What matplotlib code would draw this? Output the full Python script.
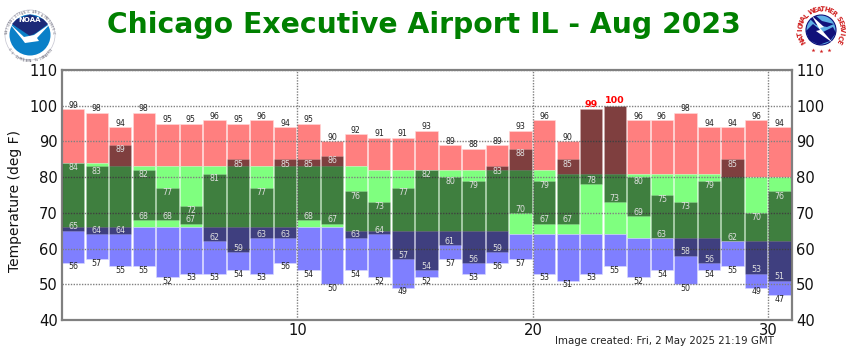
import math
import numpy as np
import matplotlib
matplotlib.use("Agg")
import matplotlib.pyplot as plt
from matplotlib.patches import Circle, Polygon

days = list(range(1, 32))
record_high = [99, 98, 94, 98, 95, 95, 96, 95, 96, 94, 95, 90, 92, 91, 91, 93,
               89, 88, 89, 93, 96, 90, 99, 100, 96, 96, 98, 94, 94, 96, 94]
record_low = [56, 57, 55, 55, 52, 53, 53, 54, 53, 56, 54, 50, 54, 52, 49, 52,
              57, 53, 56, 57, 53, 51, 53, 55, 52, 54, 50, 54, 55, 49, 47]
normal_high = [84, 84, 83, 83, 83, 83, 83, 83, 83, 83, 83, 83, 83, 82, 82, 82,
               82, 82, 82, 82, 82, 81, 81, 81, 81, 81, 81, 81, 80, 80, 80]
normal_low = [66, 66, 66, 66, 66, 66, 66, 66, 66, 66, 66, 66, 65, 65, 65, 65,
              65, 65, 65, 64, 64, 64, 64, 64, 63, 63, 63, 63, 62, 62, 62]
obs_high = [84, 83, 89, 82, 77, 72, 81, 85, 77, 85, 85, 86, 76, 73, 77, 82,
            80, 79, 83, 88, 79, 85, 99, 100, 80, 75, 73, 79, 85, 70, 76]
obs_low = [65, 64, 64, 68, 68, 67, 62, 59, 63, 63, 68, 67, 63, 64, 57, 54,
           61, 56, 59, 70, 67, 67, 78, 73, 69, 63, 58, 56, 62, 53, 51]

title = "Chicago Executive Airport IL - Aug 2023"
stamp = "Image created: Fri, 2 May 2025 21:19 GMT"
y_ticks = [40, 50, 60, 70, 80, 90, 100, 110]
x_ticks = [10, 20, 30]

W, H = 850, 350
fig = plt.figure(figsize=(W / 100, H / 100), dpi=100)
ax = fig.add_axes([62 / W, 1 - 320 / H, 730 / W, 250 / H])

x = np.array(days) - 1
rh = np.array(record_high)
rl = np.array(record_low)
nh = np.array(normal_high)
nl = np.array(normal_low)
oh = np.array(obs_high)
ol = np.array(obs_low)

# background bars: record range split at the normals
bw = 0.95
ax.bar(x, rh - nh, bw, nh, align="edge", color=(1, 0, 0, 0.5), edgecolor=(1, 0.85, 0.85, 0.8), lw=0.5, zorder=2)
ax.bar(x, nh - nl, bw, nl, align="edge", color=(0, 1, 0, 0.5), edgecolor=(0.8, 1, 0.8, 0.6), lw=0.5, zorder=2)
ax.bar(x, nl - rl, bw, rl, align="edge", color=(0, 0, 1, 0.5), edgecolor=(0.85, 0.85, 1, 0.8), lw=0.5, zorder=2)
# observed range
ax.bar(x, oh - ol, bw, ol, align="edge", color=(0, 0, 0, 0.5), edgecolor=(1, 1, 1, 0.2), lw=0.5, zorder=3)

ax.set_xlim(0, 31)
ax.set_ylim(40, 110)
ax.set_xticks(x_ticks)
ax.set_yticks(y_ticks)
ax.tick_params(axis="both", length=0, labelsize=10.6, colors="#111111")
ax.tick_params(axis="y", labelright=True, right=False, pad=3)
ax.tick_params(axis="x", pad=2)
ax.grid(True, ls=(0, (1, 1)), color="#808080", lw=1.0, zorder=4)
ax.set_axisbelow(False)
for s in ax.spines:
    ax.spines[s].set_color("#808080")
    ax.spines[s].set_linewidth(1.6)
fig.text(15 / W, 1 - 201 / H, "Temperature (deg F)", rotation=90, ha="center", va="center",
         fontsize=10, color="#111111")

for i in range(len(days)):
    cx = x[i] + bw / 2
    if oh[i] >= rh[i]:
        ax.text(cx, rh[i] + 1.45, str(rh[i]), ha="center", va="center", fontsize=6.8,
                fontweight="bold", color="red", zorder=6)
    else:
        ax.text(cx, rh[i] + 1.1, str(rh[i]), ha="center", va="center", fontsize=5.7, color="#222222", zorder=6)
        ax.text(cx, oh[i] - 1.35, str(oh[i]), ha="center", va="center", fontsize=5.7, color="#e0e0e0", zorder=6)
    ax.text(cx, ol[i] + 1.05, str(ol[i]), ha="center", va="center", fontsize=5.7, color="#e0e0e0", zorder=6)
    ax.text(cx, rl[i] - 1.15, str(rl[i]), ha="center", va="center", fontsize=5.7, color="#222222", zorder=6)

fig.text(424 / W, 1 - 25 / H, title, ha="center", va="center", fontsize=20.35,
         fontweight="bold", color="#008000")
fig.text(555 / W, 1 - 341.5 / H, stamp, ha="left", va="center", fontsize=7.35, color="#222222")

# logos in pixel coordinates
logo = fig.add_axes([0, 0, 1, 1], facecolor="none")
logo.set_xlim(0, W)
logo.set_ylim(H, 0)
logo.axis("off")


def ring_text(text, cx, cy, r, start, end, **kw):
    angles = np.linspace(start, end, len(text))
    for ch, a in zip(text, angles):
        px = cx + r * math.cos(math.radians(a))
        py = cy - r * math.sin(math.radians(a))
        logo.text(px, py, ch, rotation=a - 90, ha="center", va="center", **kw)


# NOAA
logo.add_patch(Circle((30, 35), 25, fc="white", ec="#c4c4d0", lw=0.5))
logo.add_patch(Circle((30, 35), 20.5, fc="#0a80c8", ec="none"))
logo.add_patch(Polygon([[12, 24], [17, 19], [30, 14.5], [43, 19], [48, 24], [36, 33], [30, 36]], fc="#1c2a78", ec="none"))
logo.add_patch(Polygon([[9, 23], [24, 37], [34, 35], [51, 23], [37, 38], [39, 41], [25, 43], [22, 39]], fc="white", ec="none"))
logo.text(30, 20.5, "NOAA", color="white", fontsize=5, fontweight="bold", ha="center", va="center")
ring_text("NATIONAL OCEANIC AND ATMOSPHERIC", 30, 35, 23, 175, 5, fontsize=1.9, color="#555566")
ring_text("U.S. DEPARTMENT OF COMMERCE", 30, 35, 23, 215, 325, fontsize=1.9, color="#555566")

# NWS
logo.add_patch(Circle((821, 30), 15, fc="#5fb0e6", ec="#10107a", lw=0.8))
logo.add_patch(Polygon([[806, 31], [813, 24], [823, 32], [833, 27], [836, 33], [830, 41], [819, 45], [809, 40]], fc="#10107a", ec="none"))
logo.add_patch(Polygon([[810, 19], [816, 16], [822, 21], [834, 24], [827, 27], [816, 25]], fc="#10107a", ec="none"))
logo.add_patch(Polygon([[812, 16], [824, 27], [820, 28], [833, 43], [816, 31], [820, 30]], fc="white", ec="none"))
ring_text("NATIONAL WEATHER SERVICE", 821, 30, 20.5, 212, -32, fontsize=4.8, color="#d02020", fontweight="bold")
logo.scatter([813, 821, 829], [50, 51, 50], marker="*", s=9, color="#d02020", lw=0)

fig.savefig("out.png", dpi=100)
